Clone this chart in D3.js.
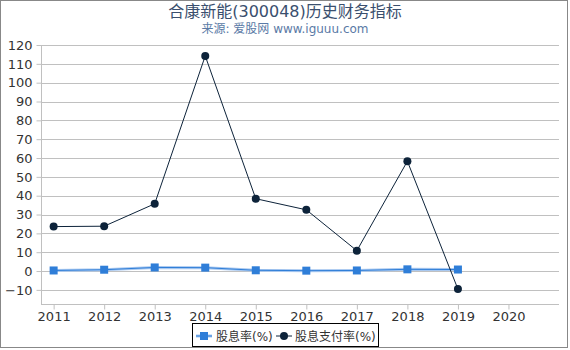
<!DOCTYPE html>
<html>
<head>
<meta charset="utf-8">
<title>合康新能(300048)历史财务指标</title>
<script src="https://cdnjs.cloudflare.com/ajax/libs/d3/7.8.5/d3.min.js"></script>
<style>
  html, body { margin: 0; padding: 0; background: white; }
  svg { display: block; font-family: 'DejaVu Sans', 'Noto Sans CJK SC', sans-serif; }
</style>
</head>
<body>
<div id="chart"></div>
<script>
const years = [2011, 2012, 2013, 2014, 2015, 2016, 2017, 2018, 2019];
const xTicks = [2011, 2012, 2013, 2014, 2015, 2016, 2017, 2018, 2019, 2020];
const yTicks = [-10, 0, 10, 20, 30, 40, 50, 60, 70, 80, 90, 100, 110, 120];
const dividendYield = [0.3, 0.7, 1.9, 1.8, 0.4, 0.2, 0.3, 0.9, 0.8];
const payoutRatio = [23.6, 23.8, 35.7, 114.2, 38.4, 32.5, 10.8, 58.3, -9.6];
const seriesNames = ['股息率(%)', '股息支付率(%)'];

const width = 570, height = 350;
const margin = { top: 45, right: 11, bottom: 46, left: 41 };
const fontFamily = "'DejaVu Sans', 'Noto Sans CJK SC', sans-serif";

const svg = d3.select('#chart').append('svg')
  .attr('width', width)
  .attr('height', height);

// outer frame
svg.append('rect')
  .attr('x', 0.5).attr('y', 0.5)
  .attr('width', width - 3).attr('height', height - 3)
  .attr('fill', 'white')
  .attr('stroke', '#888');

const x = d3.scaleLinear()
  .domain([2010.75, 2021])
  .range([margin.left, width - margin.right]);

const y = d3.scaleLinear()
  .domain([-17.5, 120])
  .range([height - margin.bottom, margin.top]);

// grid
svg.append('g')
  .selectAll('line')
  .data(yTicks)
  .enter()
  .append('line')
  .attr('x1', margin.left)
  .attr('x2', width - margin.right)
  .attr('y1', d => Math.round(y(d)) + 0.5)
  .attr('y2', d => Math.round(y(d)) + 0.5)
  .attr('stroke', '#c0c0c0');

// y axis
const yAxis = svg.append('g')
  .attr('transform', `translate(${margin.left + 0.5},0)`)
  .call(d3.axisLeft(y).tickValues(yTicks).tickSize(5).tickPadding(4));
yAxis.attr('font-family', fontFamily);
yAxis.select('.domain').attr('stroke', '#c0c0c0').attr('d', `M0,${margin.top}V${height - margin.bottom}`);
yAxis.selectAll('.tick line').attr('stroke', '#c0c0c0');
yAxis.selectAll('text').attr('fill', '#333').style('font-size', '13px');

// x axis
const xAxis = svg.append('g')
  .attr('transform', `translate(0,${height - margin.bottom + 0.5})`)
  .call(d3.axisBottom(x).tickValues(xTicks).tickFormat(d3.format('d')).tickSize(5).tickPadding(2));
xAxis.attr('font-family', fontFamily);
xAxis.select('.domain').attr('stroke', '#c0c0c0').attr('d', `M${margin.left},0H${width - margin.right}`);
xAxis.selectAll('.tick line').attr('stroke', '#c0c0c0');
xAxis.selectAll('text').attr('fill', '#333').style('font-size', '13px');

// series: dividend yield
const line = d3.line().x((d, i) => x(years[i])).y(d => y(d));

svg.append('path')
  .datum(dividendYield)
  .attr('d', line)
  .attr('fill', 'none')
  .attr('stroke', '#a8c8f0')
  .attr('stroke-width', 3);
svg.append('path')
  .datum(dividendYield)
  .attr('d', line)
  .attr('fill', 'none')
  .attr('stroke', '#2f7ed8')
  .attr('stroke-width', 1);
svg.append('g')
  .selectAll('rect')
  .data(dividendYield)
  .enter()
  .append('rect')
  .attr('x', (d, i) => x(years[i]) - 4)
  .attr('y', d => y(d) - 4)
  .attr('width', 8)
  .attr('height', 8)
  .attr('fill', '#2f7ed8');

// series: payout ratio
svg.append('path')
  .datum(payoutRatio)
  .attr('d', line)
  .attr('fill', 'none')
  .attr('stroke', '#0d233a')
  .attr('stroke-width', 1);
svg.append('g')
  .selectAll('circle')
  .data(payoutRatio)
  .enter()
  .append('circle')
  .attr('cx', (d, i) => x(years[i]))
  .attr('cy', d => y(d))
  .attr('r', 4)
  .attr('fill', '#0d233a');

// titles
svg.append('text')
  .attr('x', 285).attr('y', 17)
  .attr('text-anchor', 'middle')
  .attr('fill', '#3a4f6e')
  .style('font-size', '16px')
  .text('合康新能(300048)历史财务指标');
svg.append('text')
  .attr('x', 285).attr('y', 33)
  .attr('text-anchor', 'middle')
  .attr('fill', '#5a7aa6')
  .style('font-size', '12px')
  .text('来源: 爱股网 www.iguuu.com');

// legend
const legend = svg.append('g');
legend.append('rect')
  .attr('x', 192.5).attr('y', 323.5)
  .attr('width', 186).attr('height', 23)
  .attr('fill', 'white')
  .attr('stroke', '#000');

legend.append('line')
  .attr('x1', 196).attr('x2', 212).attr('y1', 336).attr('y2', 336)
  .attr('stroke', '#a8c8f0').attr('stroke-width', 3);
legend.append('line')
  .attr('x1', 196).attr('x2', 212).attr('y1', 336).attr('y2', 336)
  .attr('stroke', '#2f7ed8').attr('stroke-width', 1);
legend.append('rect')
  .attr('x', 200).attr('y', 332).attr('width', 8).attr('height', 8)
  .attr('fill', '#2f7ed8');
legend.append('text')
  .attr('x', 216).attr('y', 340.5)
  .attr('fill', '#333')
  .style('font-size', '12px')
  .text(seriesNames[0]);

legend.append('line')
  .attr('x1', 276).attr('x2', 292).attr('y1', 336).attr('y2', 336)
  .attr('stroke', '#0d233a').attr('stroke-width', 1);
legend.append('circle')
  .attr('cx', 284).attr('cy', 336).attr('r', 4)
  .attr('fill', '#0d233a');
legend.append('text')
  .attr('x', 295).attr('y', 340.5)
  .attr('fill', '#333')
  .style('font-size', '12px')
  .text(seriesNames[1]);
</script>
</body>
</html>
